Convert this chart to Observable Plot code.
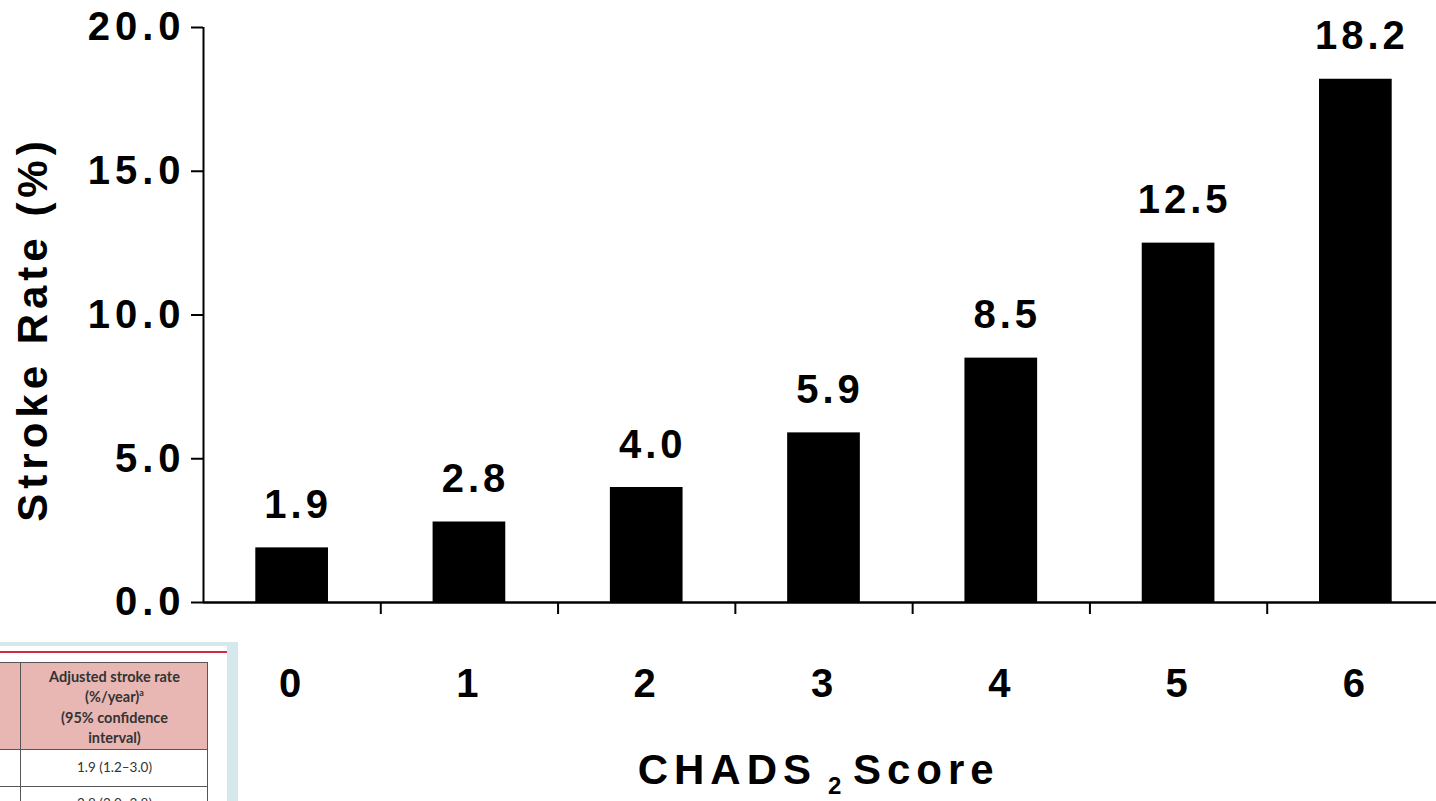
<!DOCTYPE html>
<html>
<head>
<meta charset="utf-8">
<script src="https://cdn.jsdelivr.net/npm/d3@7"></script>
<script src="https://cdn.jsdelivr.net/npm/@observablehq/plot@0.6"></script>
<style>
  html, body { margin: 0; padding: 0; background: #fff; overflow: hidden; }
  #wrap { position: relative; width: 1436px; height: 801px; }
  #chart svg { display: block; }
  #chart svg text { letter-spacing: 4px; }
  #chart g[aria-label="y-axis tick label"] text { letter-spacing: 5px; }
  .panel { position: absolute; left: 0; top: 642px; width: 238px; height: 159px; background: #d6e8eb; overflow: hidden; }
  .inner { position: absolute; left: 0; top: 4px; width: 227px; height: 170px; background: #fff; }
  .redline { position: absolute; left: 0; top: 5px; width: 227px; height: 2px; background: #cf2a43; }
  .hdr { position: absolute; left: 0; top: 16px; width: 208px; height: 88px; background: #e8b7b3; box-sizing: border-box;
         border-top: 1px solid #555; border-right: 1px solid #555; border-bottom: 1px solid #555; }
  .vline { position: absolute; left: 20px; top: 16px; width: 1px; height: 160px; background: #555; }
  .hdrtxt { position: absolute; left: 21px; top: 21px; width: 187px; text-align: center; font-family: Lato, "Open Sans", sans-serif;
            font-weight: bold; font-size: 14.5px; line-height: 20.3px; color: #333; }
  .row1 { position: absolute; left: 0; top: 104px; width: 208px; height: 37px; box-sizing: border-box;
          border-right: 1px solid #555; border-bottom: 1px solid #555; }
  .rowtxt { position: absolute; left: 21px; width: 187px; text-align: center; font-family: Lato, "Open Sans", sans-serif;
            font-size: 13.5px; line-height: 16px; color: #333; }
  .row2 { position: absolute; left: 0; top: 141px; width: 208px; height: 40px; box-sizing: border-box; border-right: 1px solid #555; }
</style>
</head>
<body>
<div id="wrap">
  <div id="chart"></div>
  <div class="panel">
    <div class="inner">
      <div class="redline"></div>
      <div class="hdr"></div>
      <div class="hdrtxt">Adjusted stroke rate<br>(%/year)<sup style="font-size:9px;line-height:0">a</sup><br>(95% confidence<br>interval)</div>
      <div class="row1"></div>
      <div class="rowtxt" style="top:113px">1.9 (1.2–3.0)</div>
      <div class="row2"></div>
      <div class="rowtxt" style="top:149px">2.8 (2.0–3.8)</div>
      <div class="vline"></div>
    </div>
  </div>
</div>
<script>
const scores = [0, 1, 2, 3, 4, 5, 6];
const rates = [1.9, 2.8, 4.0, 5.9, 8.5, 12.5, 18.2];
const yTicks = [0, 5, 10, 15, 20];
const xBoundaries = [0.5, 1.5, 2.5, 3.5, 4.5, 5.5];
const xDomain = [-0.5, 6.5];
const yTitle = "Stroke Rate (%)";
const xTitleHead = "CHADS";
const xTitleSub = "2";
const xTitleTail = "Score";

const data = scores.map((s, i) => ({score: s, rate: rates[i]}));
const half = 0.205;

const chart = Plot.plot({
  width: 1436,
  height: 801,
  marginLeft: 203,
  marginRight: 0,
  marginTop: 27,
  marginBottom: 199,
  x: {type: "linear", domain: xDomain, range: [203, 1444]},
  y: {domain: [0, 20], range: [602, 27]},
  style: {fontFamily: "'Liberation Sans', Arial, Helvetica, sans-serif", color: "#000", background: "transparent", overflow: "visible"},
  marks: [
    Plot.rectY(data, {x1: d => d.score - half, x2: d => d.score + half, y1: 0, y2: "rate", fill: "#000"}),
    Plot.ruleY([0], {stroke: "#000", strokeWidth: 2.5}),
    Plot.ruleX([xDomain[0]], {y1: 0, y2: 20, stroke: "#000", strokeWidth: 2}),
    Plot.axisY({ticks: yTicks, tickFormat: d => d.toFixed(1), tickSize: 12, tickPadding: 6, fontSize: 40, fontWeight: "bold", strokeWidth: 2, label: null}),
    Plot.axisX({ticks: xBoundaries, tickFormat: () => "", tickSize: 12, strokeWidth: 2, label: null}),
    Plot.axisX({ticks: scores, tickFormat: d => String(d), tickSize: 0, tickPadding: 66, fontSize: 40, fontWeight: "bold", label: null}),
    Plot.text(data, {x: "score", y: "rate", text: d => d.rate.toFixed(1), dy: -30, dx: 6, lineAnchor: "bottom", fontSize: 40, fontWeight: "bold"}),
    Plot.text([xTitleHead], {frameAnchor: "bottom", textAnchor: "end", dx: -3, dy: 181, lineAnchor: "bottom", fontSize: 42, fontWeight: "bold"}),
    Plot.text([xTitleSub], {frameAnchor: "bottom", textAnchor: "start", dx: 8, dy: 191, lineAnchor: "bottom", fontSize: 24, fontWeight: "bold"}),
    Plot.text([xTitleTail], {frameAnchor: "bottom", textAnchor: "start", dx: 33, dy: 181, lineAnchor: "bottom", fontSize: 42, fontWeight: "bold"}),
    Plot.text([yTitle], {frameAnchor: "left", textAnchor: "middle", rotate: -90, dx: -170, dy: 14, fontSize: 42, fontWeight: "bold"})
  ]
});
d3.select(chart).selectAll("text").each(function () {
  const t = this.textContent;
  if (t === xTitleHead || t === xTitleTail) this.style.letterSpacing = "6px";
  if (t === yTitle) this.style.letterSpacing = "5px";
});
document.getElementById("chart").appendChild(chart);
</script>
</body>
</html>
